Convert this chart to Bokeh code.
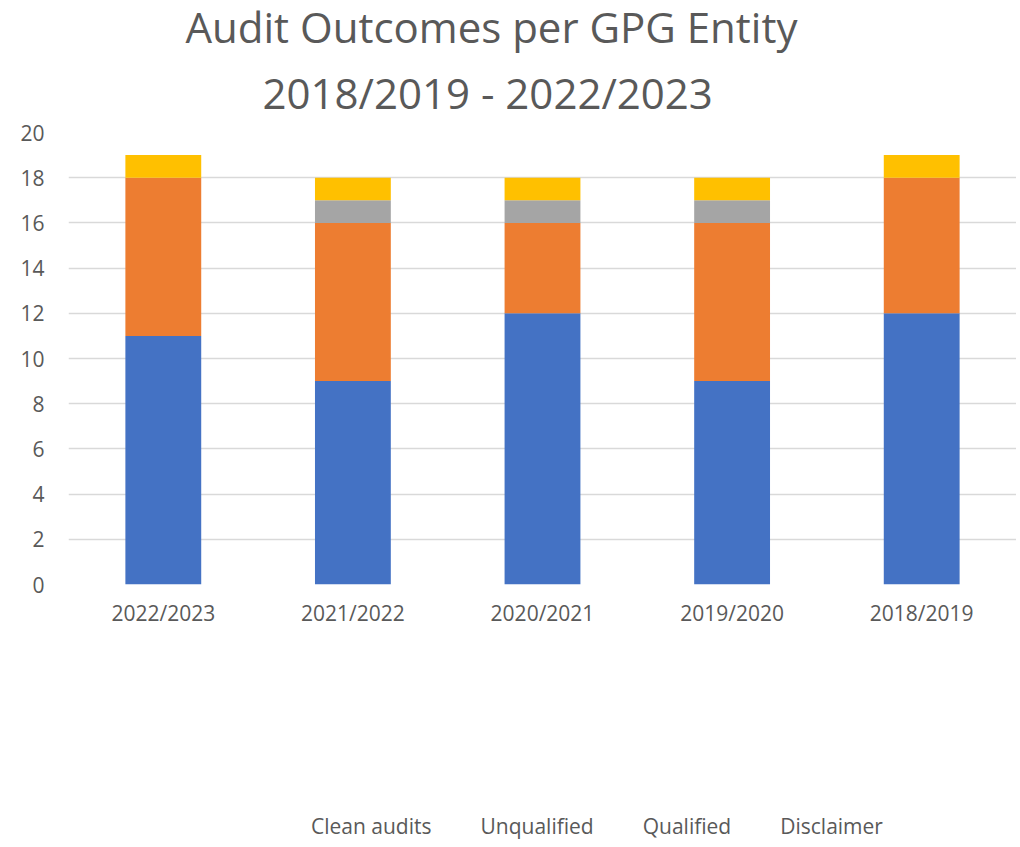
from bokeh.plotting import figure
from bokeh.layouts import column
from bokeh.models import Legend, LegendItem, Title, SingleIntervalTicker
from bokeh.embed import file_html
from bokeh.resources import INLINE

years = ["2022/2023", "2021/2022", "2020/2021", "2019/2020", "2018/2019"]
clean = [11, 9, 12, 9, 12]
unqualified = [7, 7, 4, 7, 6]
qualified = [0, 1, 1, 1, 0]
disclaimer = [1, 1, 1, 1, 1]
series = ["Clean audits", "Unqualified", "Qualified", "Disclaimer"]
colors = ["#4472C4", "#ED7D31", "#A5A5A5", "#FFC000"]
title_lines = ["Audit Outcomes per GPG Entity", "2018/2019 - 2022/2023"]

data = dict(years=years, clean=clean, unqualified=unqualified,
            qualified=qualified, disclaimer=disclaimer)

FONT = "Open Sans"
TXT = "#595959"

fig = figure(x_range=years, y_range=(0, 20), frame_width=948, frame_height=452,
             output_backend="svg", toolbar_location=None,
             min_border_left=68, min_border_right=0, min_border_top=20,
             min_border_bottom=60)
fig.title = None

fig.vbar_stack(["clean", "unqualified", "qualified", "disclaimer"],
               x="years", width=0.4, color=colors, source=data, line_width=0)

# title: second line nearest the frame, then first line
t2 = Title(text=title_lines[1], align="left", offset=194, text_font=FONT,
           text_font_size="42px", text_font_style="normal", text_color=TXT,
           standoff=24)
t1 = Title(text=title_lines[0], align="left", offset=117, text_font=FONT,
           text_font_size="42px", text_font_style="normal", text_color=TXT,
           standoff=-10)
fig.add_layout(t2, "above")
fig.add_layout(t1, "above")

fig.outline_line_color = None
fig.xgrid.grid_line_color = None
fig.ygrid.grid_line_color = "#D9D9D9"
fig.ygrid.grid_line_width = 1.5
fig.yaxis.ticker = SingleIntervalTicker(interval=2)
for ax in (fig.xaxis, fig.yaxis):
    ax.axis_line_color = None
    ax.major_tick_line_color = None
    ax.minor_tick_line_color = None
    ax.major_label_text_font = FONT
    ax.major_label_text_font_size = "21px"
    ax.major_label_text_color = TXT
fig.xaxis.major_label_standoff = 8
fig.yaxis.major_label_standoff = 18

# separate strip holding the legend below the chart
leg_fig = figure(width=1016, height=196, x_range=(0, 1), y_range=(0, 1),
                 output_backend="svg", toolbar_location=None,
                 x_axis_location=None, y_axis_location=None,
                 min_border=0, min_border_left=0, min_border_right=0,
                 min_border_top=0, min_border_bottom=0)
leg_fig.outline_line_color = None
leg_fig.grid.visible = False
leg_renderers = [leg_fig.vbar(x=[], top=[], width=0.5, color=c, line_width=0)
                 for c in colors]

items = [LegendItem(label=s, renderers=[r]) for s, r in zip(series, leg_renderers)]
legend = Legend(items=items, orientation="horizontal", location=(222, 0),
                label_text_font=FONT, label_text_font_size="21px",
                label_text_color=TXT, glyph_width=13, glyph_height=13,
                label_standoff=8, spacing=28, padding=0, margin=0,
                border_line_color=None, background_fill_alpha=0)
leg_fig.add_layout(legend, "center")

p = column(fig, leg_fig, spacing=0)

open("out.html", "w").write(file_html(p, INLINE))
